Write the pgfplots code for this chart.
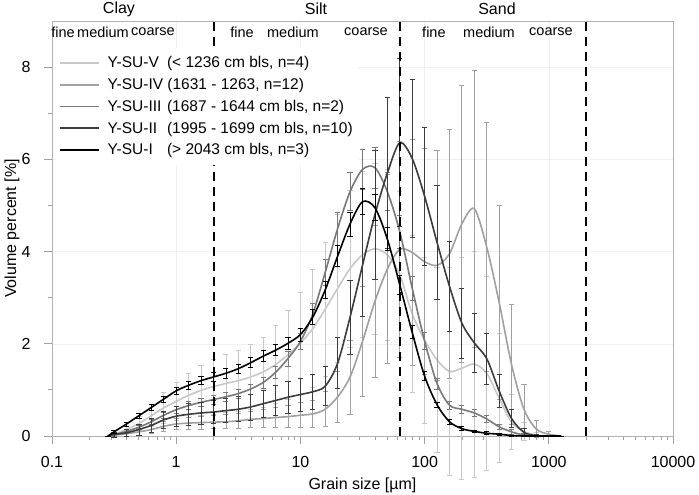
\documentclass[border=0pt]{standalone}
\usepackage{fontspec}
\setmainfont{Liberation Sans}
\usepackage{pgfplots}
\usepackage{pgfplotstable}
\pgfplotsset{compat=1.18}

\definecolor{cV}{HTML}{C8C8C8}
\definecolor{cIV}{HTML}{A0A0A0}
\definecolor{cIII}{HTML}{787878}
\definecolor{cII}{HTML}{3C3C3C}
\definecolor{cI}{HTML}{000000}

\pgfplotstableread{
x y e
0.282 0 0
0.316 0.04 0.02
0.398 0.14 0.08
0.501 0.27 0.15
0.631 0.44 0.24
0.794 0.61 0.34
1 0.75 0.41
1.259 0.88 0.48
1.585 0.99 0.54
1.995 1.07 0.59
2.512 1.14 0.63
3.162 1.20 0.66
3.981 1.28 0.70
5.012 1.39 0.76
6.310 1.55 0.85
7.943 1.76 0.97
10 2.01 1.10
12.59 2.33 1.28
15.85 2.75 1.45
19.95 3.20 1.60
25.12 3.63 1.70
31.62 3.93 1.80
39.81 4.06 1.85
50.12 3.93 1.85
63.10 3.50 1.80
79.43 2.65 1.70
100 2.08 1.80
125.9 1.65 2.00
158.5 1.40 2.25
199.5 1.47 2.40
251.2 1.56 2.45
316.2 1.36 2.10
398.1 0.82 1.40
501.2 0.30 0.60
631.0 0.10 0.20
794.3 0.02 0.05
1000 0 0
1259 0 0
}\tV

\pgfplotstableread{
x y e
0.282 0 0
0.316 0.02 0.03
0.398 0.05 0.05
0.501 0.09 0.07
0.631 0.14 0.09
0.794 0.21 0.11
1 0.26 0.12
1.259 0.28 0.13
1.585 0.29 0.14
1.995 0.30 0.14
2.512 0.31 0.15
3.162 0.33 0.16
3.981 0.36 0.18
5.012 0.38 0.20
6.310 0.40 0.22
7.943 0.42 0.24
10 0.45 0.27
12.59 0.48 0.30
15.85 0.58 0.38
19.95 0.85 0.55
25.12 1.28 0.80
31.62 2.05 1.20
39.81 2.92 1.65
50.12 3.62 2.05
63.10 4.05 2.35
79.43 3.98 2.45
100 3.78 2.45
125.9 3.70 2.50
158.5 3.95 2.70
199.5 4.60 3.00
251.2 4.93 3.00
316.2 4.10 2.70
398.1 2.90 2.10
501.2 1.55 1.30
631.0 0.58 0.55
794.3 0.15 0.18
1000 0.04 0.05
1259 0 0
}\tIV

\pgfplotstableread{
x y e
0.282 0 0
0.316 0.03 0.04
0.398 0.10 0.05
0.501 0.19 0.05
0.631 0.31 0.06
0.794 0.45 0.07
1 0.57 0.08
1.259 0.66 0.09
1.585 0.73 0.09
1.995 0.79 0.10
2.512 0.85 0.10
3.162 0.92 0.10
3.981 1.02 0.11
5.012 1.16 0.12
6.310 1.38 0.14
7.943 1.68 0.16
10 2.05 0.18
12.59 2.65 0.23
15.85 3.55 0.29
19.95 4.50 0.36
25.12 5.30 0.41
31.62 5.78 0.44
39.81 5.82 0.45
50.12 5.30 0.41
63.10 4.43 0.35
79.43 3.21 0.26
100 2.06 0.18
125.9 1.14 0.12
158.5 0.67 0.09
199.5 0.58 0.08
251.2 0.50 0.08
316.2 0.37 0.07
398.1 0.20 0.05
501.2 0.09 0.05
631.0 0.02 0.03
794.3 0 0.01
1000 0 0
1259 0 0
}\tIII

\pgfplotstableread{
x y e
0.282 0 0
0.316 0.03 0.05
0.398 0.07 0.08
0.501 0.14 0.12
0.631 0.23 0.15
0.794 0.35 0.18
1 0.43 0.21
1.259 0.47 0.23
1.585 0.50 0.24
1.995 0.52 0.25
2.512 0.55 0.26
3.162 0.58 0.27
3.981 0.63 0.28
5.012 0.70 0.30
6.310 0.77 0.32
7.943 0.84 0.34
10 0.90 0.36
12.59 0.96 0.38
15.85 1.08 0.42
19.95 1.58 0.55
25.12 2.58 0.80
31.62 3.70 1.10
39.81 4.80 1.40
50.12 5.70 1.64
63.10 6.36 1.82
79.43 6.02 1.72
100 5.20 1.50
125.9 4.20 1.23
158.5 3.25 0.98
199.5 2.45 0.76
251.2 2.02 0.65
316.2 1.68 0.55
398.1 0.98 0.36
501.2 0.38 0.20
631.0 0.08 0.08
794.3 0.01 0.02
1000 0 0
1259 0 0
}\tII

\pgfplotstableread{
x y e
0.282 0 0
0.316 0.09 0.03
0.398 0.26 0.04
0.501 0.44 0.05
0.631 0.62 0.06
0.794 0.80 0.07
1 0.98 0.08
1.259 1.10 0.09
1.585 1.20 0.09
1.995 1.28 0.09
2.512 1.36 0.10
3.162 1.46 0.10
3.981 1.59 0.11
5.012 1.73 0.12
6.310 1.86 0.12
7.943 2.01 0.13
10 2.20 0.14
12.59 2.58 0.16
15.85 3.17 0.19
19.95 3.90 0.23
25.12 4.60 0.26
31.62 5.08 0.28
39.81 4.95 0.28
50.12 4.27 0.25
63.10 3.28 0.20
79.43 2.25 0.14
100 1.30 0.10
125.9 0.68 0.06
158.5 0.31 0.05
199.5 0.16 0.04
251.2 0.10 0.03
316.2 0.06 0.03
398.1 0.04 0.02
501.2 0.01 0.01
631.0 0 0.01
794.3 0 0
1000 0 0
1259 0 0
}\tI

\pgfplotsset{
  ser/.style={draw=#1, color=#1, line width=1.6pt, smooth, no markers,
    error bars/y dir=both, error bars/y explicit,
    error bars/error bar style={line width=0.7pt, draw=#1, color=#1, solid},
    error bars/error mark options={rotate=90, line width=0.7pt, mark size=2.6pt, draw=#1, color=#1}},
}

\begin{document}
\begin{tikzpicture}
\path[use as bounding box] (-52pt,-59pt) rectangle (647pt,436pt);
\begin{axis}[
  at={(0pt,0pt)}, anchor=south west,
  width=621pt, height=415pt, scale only axis,
  xmode=log, xmin=0.1, xmax=10000, ymin=0, ymax=9,
  xtick={0.1,1,10,100,1000,10000},
  xticklabels={0.1,1,10,100,1000,10000},
  ytick={0,2,4,6,8}, minor ytick={1,3,5,7},
  tick align=outside, xtick pos=bottom, ytick pos=left,
  major tick length=8pt, minor tick length=4pt,
  tick style={gray!75, line width=0.8pt},
  axis line style={gray!60, line width=0.8pt},
  grid=major, major grid style={gray!12, line width=0.5pt},
  /pgf/number format/assume math mode=true,
  ticklabel style={font=\fontsize{16}{19}\selectfont},
  xticklabel style={yshift=-9pt},
  yticklabel style={xshift=-10pt},
  label style={font=\fontsize{16}{19}\selectfont},
  xlabel={Grain size [µm]}, ylabel={Volume percent [\%]},
  xlabel style={at={(rel axis cs:0.5,-0.118)}, anchor=center},
  ylabel style={at={(rel axis cs:-0.0644,0.5)}, anchor=center},
  clip=false,
  legend style={at={(rel axis cs:0.006,0.936)}, anchor=north west, fill=white, draw=none,
    font=\fontsize{15.5}{18}\selectfont, row sep=5pt, inner xsep=3pt, inner ysep=7pt,
    /tikz/every odd column/.append style={column sep=6pt}},
  legend cell align=left,
  legend image code/.code={\draw[line width=1.8pt, #1, line width=1.8pt] (0pt,0pt) -- (39pt,0pt);},
]
\addplot[ser=cV] table[x=x,y=y,y error=e]{\tV};
\addlegendentry{\makebox[3.83em][l]{Y-SU-V}(< 1236 cm bls, n=4)}
\addplot[ser=cIV] table[x=x,y=y,y error=e]{\tIV};
\addlegendentry{Y-SU-IV (1631 - 1263, n=12)}
\addplot[ser=cIII] table[x=x,y=y,y error=e]{\tIII};
\addlegendentry{\makebox[3.83em][l]{Y-SU-III}(1687 - 1644 cm bls, n=2)}
\addplot[ser=cII] table[x=x,y=y,y error=e]{\tII};
\addlegendentry{\makebox[3.83em][l]{Y-SU-II}(1995 - 1699 cm bls, n=10)}
\addplot[ser=cI] table[x=x,y=y,y error=e]{\tI};
\addlegendentry{\makebox[3.83em][l]{Y-SU-I}(> 2043 cm bls, n=3)}

\draw[black, line width=2pt, dash pattern=on 9pt off 6pt] (axis cs:2,0) -- (axis cs:2,9);
\draw[black, line width=2pt, dash pattern=on 9pt off 6pt] (axis cs:63,0) -- (axis cs:63,9);
\draw[black, line width=2pt, dash pattern=on 9pt off 6pt] (axis cs:2000,0) -- (axis cs:2000,9);

\begin{scope}[every node/.style={font=\fontsize{14.5}{17}\selectfont, anchor=center}]
\node at (rel axis cs:0.0177,0.9735) {fine};
\node at (rel axis cs:0.0821,0.9735) {medium};
\node at (rel axis cs:0.1626,0.9735) {coarse};
\node at (rel axis cs:0.306,0.9735) {fine};
\node at (rel axis cs:0.388,0.9735) {medium};
\node at (rel axis cs:0.5056,0.9735) {coarse};
\node at (rel axis cs:0.615,0.9735) {fine};
\node at (rel axis cs:0.7037,0.9735) {medium};
\node at (rel axis cs:0.8035,0.9735) {coarse};
\end{scope}
\begin{scope}[every node/.style={font=\fontsize{16}{19}\selectfont, anchor=center}]
\node at (rel axis cs:0.1079,1.029) {Clay};
\node at (rel axis cs:0.4251,1.029) {Silt};
\node at (rel axis cs:0.7166,1.029) {Sand};
\end{scope}
\end{axis}
\end{tikzpicture}
\end{document}
